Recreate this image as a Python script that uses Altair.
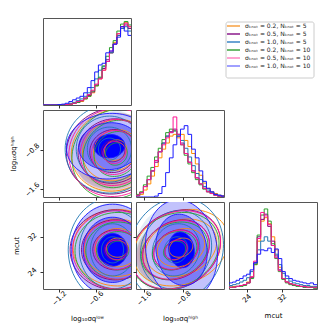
import altair as alt
import pandas as pd

# ---------------- series ----------------
series_ids = ["s1", "s2", "s3", "s4", "s5", "s6"]
series_labels = [
    "σₖₙₒₜ = 0.2, Nₖₙₒₜ = 5",
    "σₖₙₒₜ = 0.5, Nₖₙₒₜ = 5",
    "σₖₙₒₜ = 1.0, Nₖₙₒₜ = 5",
    "σₖₙₒₜ = 0.2, Nₖₙₒₜ = 10",
    "σₖₙₒₜ = 0.5, Nₖₙₒₜ = 10",
    "σₖₙₒₜ = 1.0, Nₖₙₒₜ = 10",
]
line_colors = ["#ff8c00", "#800080", "#1f77b4", "#2ca02c", "#ff1493", "#1a1aff"]
legend_colors = ["#f7a040", "#8b1a8b", "#3a84c4", "#3ca33c", "#ff85c2", "#8080ff"]

# ---------------- 1D histograms (fraction of panel height) ----------------
low_edges = [-1.46, -1.40, -1.34, -1.28, -1.22, -1.16, -1.10, -1.04, -0.98, -0.92, -0.86, -0.80,
             -0.74, -0.68, -0.62, -0.56, -0.50, -0.44, -0.38, -0.32, -0.26, -0.20, -0.14, -0.08, -0.02]
low_s1 = [0, 0, 0, 0, 0, 0, 0.005, 0.01, 0.02, 0.03, 0.04, 0.07, 0.10, 0.14, 0.22, 0.30, 0.40, 0.50, 0.60, 0.72, 0.82, 0.90, 0.95, 0.90]
low_s2 = [0, 0, 0, 0, 0, 0, 0.005, 0.01, 0.02, 0.03, 0.05, 0.08, 0.11, 0.15, 0.23, 0.31, 0.42, 0.52, 0.60, 0.70, 0.80, 0.88, 0.92, 0.88]
low_s3 = [0, 0, 0, 0, 0, 0.005, 0.01, 0.02, 0.03, 0.05, 0.07, 0.10, 0.14, 0.20, 0.30, 0.40, 0.44, 0.50, 0.60, 0.70, 0.80, 0.88, 0.90, 0.85]
low_s4 = [0, 0, 0, 0, 0, 0, 0, 0.01, 0.02, 0.03, 0.05, 0.07, 0.10, 0.16, 0.22, 0.32, 0.45, 0.56, 0.66, 0.74, 0.85, 0.93, 0.96, 0.92]
low_s5 = [0, 0, 0, 0, 0, 0, 0.005, 0.01, 0.02, 0.04, 0.05, 0.08, 0.12, 0.17, 0.24, 0.30, 0.40, 0.50, 0.62, 0.70, 0.82, 0.90, 0.94, 0.90]
low_s6 = [0, 0, 0, 0, 0.005, 0.01, 0.02, 0.04, 0.06, 0.08, 0.10, 0.14, 0.20, 0.28, 0.38, 0.46, 0.48, 0.60, 0.62, 0.70, 0.78, 0.90, 0.85, 0.80]

high_edges = [-1.76, -1.685, -1.61, -1.535, -1.46, -1.385, -1.31, -1.235, -1.16, -1.085, -1.01, -0.935,
              -0.86, -0.785, -0.71, -0.635, -0.56, -0.485, -0.41, -0.335, -0.26, -0.185, -0.11, -0.035, 0.04]
high_s1 = [0.01, 0.03, 0.08, 0.15, 0.24, 0.35, 0.45, 0.55, 0.62, 0.70, 0.72, 0.68, 0.72, 0.65, 0.58, 0.50, 0.38, 0.25, 0.16, 0.10, 0.06, 0.04, 0.02, 0.01]
high_s2 = [0.02, 0.05, 0.12, 0.20, 0.30, 0.40, 0.52, 0.62, 0.70, 0.75, 0.78, 0.72, 0.62, 0.50, 0.40, 0.30, 0.22, 0.15, 0.10, 0.06, 0.04, 0.02, 0.01, 0.01]
high_s3 = [0.02, 0.05, 0.12, 0.20, 0.30, 0.42, 0.52, 0.62, 0.70, 0.74, 0.76, 0.72, 0.65, 0.56, 0.46, 0.36, 0.27, 0.20, 0.12, 0.08, 0.05, 0.03, 0.02, 0.01]
high_s4 = [0.03, 0.06, 0.14, 0.24, 0.34, 0.46, 0.56, 0.66, 0.74, 0.78, 0.76, 0.70, 0.60, 0.48, 0.38, 0.28, 0.20, 0.14, 0.09, 0.06, 0.04, 0.02, 0.01, 0.01]
high_s5 = [0.02, 0.05, 0.12, 0.20, 0.30, 0.42, 0.52, 0.60, 0.68, 0.74, 0.92, 0.72, 0.60, 0.50, 0.40, 0.30, 0.22, 0.15, 0.10, 0.06, 0.04, 0.02, 0.01, 0.01]
high_s6 = [0, 0, 0, 0, 0, 0.01, 0.04, 0.12, 0.28, 0.45, 0.60, 0.70, 0.78, 0.82, 0.72, 0.55, 0.45, 0.30, 0.18, 0.10, 0.06, 0.03, 0.02, 0.01]

mcut_edges = [20.0, 20.8, 21.6, 22.4, 23.2, 24.0, 24.8, 25.6, 26.4, 27.2, 28.0, 28.8, 29.6,
              30.4, 31.2, 32.0, 32.8, 33.6, 34.4, 35.2, 36.0, 36.8, 37.6, 38.4, 39.2, 40.0]
mcut_s1 = [0.02, 0.03, 0.03, 0.04, 0.05, 0.08, 0.14, 0.28, 0.55, 0.78, 0.82, 0.75, 0.60, 0.45, 0.25, 0.12, 0.08, 0.06, 0.05, 0.04, 0.03, 0.03, 0.02, 0.02, 0.02]
mcut_s2 = [0.02, 0.02, 0.03, 0.04, 0.05, 0.07, 0.13, 0.30, 0.60, 0.80, 0.86, 0.72, 0.55, 0.38, 0.22, 0.12, 0.08, 0.06, 0.04, 0.04, 0.03, 0.02, 0.02, 0.02, 0.01]
mcut_s3 = [0.04, 0.05, 0.06, 0.08, 0.10, 0.13, 0.20, 0.30, 0.45, 0.55, 0.60, 0.55, 0.50, 0.40, 0.28, 0.18, 0.12, 0.09, 0.07, 0.06, 0.05, 0.04, 0.04, 0.03, 0.03]
mcut_s4 = [0.02, 0.02, 0.03, 0.03, 0.04, 0.07, 0.12, 0.28, 0.62, 0.85, 0.92, 0.78, 0.52, 0.35, 0.20, 0.11, 0.07, 0.05, 0.04, 0.03, 0.03, 0.02, 0.02, 0.02, 0.01]
mcut_s5 = [0.02, 0.02, 0.03, 0.04, 0.05, 0.07, 0.14, 0.32, 0.58, 0.88, 0.84, 0.74, 0.50, 0.36, 0.21, 0.12, 0.08, 0.06, 0.05, 0.04, 0.03, 0.03, 0.02, 0.02, 0.02]
mcut_s6 = [0.07, 0.08, 0.10, 0.12, 0.15, 0.17, 0.22, 0.30, 0.40, 0.45, 0.44, 0.47, 0.42, 0.46, 0.35, 0.20, 0.15, 0.12, 0.10, 0.09, 0.08, 0.07, 0.06, 0.07, 0.05]

# ---------------- 2D contour summaries (centre, spread, correlation) ----------------
# panel A: x = log sigma low, y = log sigma high
A_cx = [-0.28, -0.32, -0.38, -0.27, -0.30, -0.38]
A_cy = [-0.80, -0.82, -0.78, -0.88, -0.85, -0.72]
A_sx = [0.36, 0.38, 0.36, 0.36, 0.37, 0.50]
A_sy = [0.42, 0.44, 0.45, 0.46, 0.45, 0.48]
A_rho = [0.10, 0.05, 0.0, 0.10, 0.05, 0.05]
# panel B: x = log sigma low, y = mcut
B_cx = [-0.25, -0.28, -0.33, -0.24, -0.26, -0.33]
B_cy = [29.5, 29.0, 29.0, 28.8, 29.0, 29.0]
B_sx = [0.36, 0.37, 0.36, 0.35, 0.36, 0.48]
B_sy = [4.4, 4.6, 6.0, 4.4, 4.5, 7.5]
B_rho = [0.0, 0.0, 0.0, 0.0, 0.0, 0.0]
# panel C: x = log sigma high, y = mcut
C_cx = [-0.85, -0.95, -0.95, -0.98, -0.95, -0.84]
C_cy = [29.5, 29.0, 29.0, 28.8, 29.0, 29.0]
C_sx = [0.48, 0.45, 0.48, 0.45, 0.45, 0.52]
C_sy = [4.4, 4.6, 6.0, 4.4, 4.5, 8.2]
C_rho = [0.2, 0.2, 0.1, 0.2, 0.2, -0.1]

blue_shades = ["#c2c2fc", "#7c7cf8", "#0000ff"]

low_ticks = [-1.2, -0.6]
high_ticks = [-1.6, -0.8]
mcut_ticks = [24, 32]
low_dom = [-1.46, -0.03]
high_dom = [-1.76, 0.02]
mcut_dom = [20.0, 40.0]

t_low = "log₁₀σqˡᵒʷ"
t_high = "log₁₀σqʰⁱᵍʰ"
t_mcut = "mcut"

W, H = 88, 87
FONT = "DejaVu Sans"
TXT = "#000000"


def hist_df(edges, hists):
    rows = []
    for sid, col, vals in zip(series_ids, line_colors, hists):
        for i, e in enumerate(edges):
            rows.append({"s": sid, "col": col, "x": e, "y": vals[min(i, len(vals) - 1)]})
    return pd.DataFrame(rows)


def ell_df(cx, cy, sx, sy, rho):
    return pd.DataFrame({"s": series_ids, "col": line_colors, "cx": cx, "cy": cy,
                         "sx": sx, "sy": sy, "rho": rho})


def xaxis(vals, fmt, labels, title):
    kw = dict(values=vals, format=fmt, labels=labels, ticks=True, tickSize=3, domain=False, grid=False)
    if labels:
        kw.update(labelAngle=-45, labelAlign="center", labelBaseline="middle", labelPadding=6,
                  labelColor=TXT)
    if title:
        kw.update(title=title, titlePadding=8, titleColor=TXT)
    else:
        kw.update(title=None)
    return alt.Axis(**kw)


def yaxis(vals, fmt, labels, title):
    kw = dict(values=vals, format=fmt, labels=labels, ticks=True, tickSize=3, domain=False, grid=False)
    if labels:
        kw.update(labelAngle=-45, labelAlign="center", labelBaseline="middle", labelPadding=8,
                  labelColor=TXT)
    if title:
        kw.update(title=title, titlePadding=7, titleColor=TXT)
    else:
        kw.update(title=None)
    return alt.Axis(**kw)


def hist_panel(df, dom, xa):
    return alt.Chart(df).mark_line(interpolate="step-after", strokeWidth=1, clip=True).encode(
        x=alt.X("x:Q", scale=alt.Scale(domain=dom, nice=False, zero=False), axis=xa),
        y=alt.Y("y:Q", scale=alt.Scale(domain=[0, 1.0], nice=False), axis=None),
        color=alt.Color("col:N", scale=None),
        detail="s:N",
    ).properties(width=W, height=H)


def area_layer(df, xs, ys, xa, ya, sel, kval, fill, opacity):
    enc = dict(
        x=alt.X("ex:Q", scale=xs, axis=xa),
        y=alt.Y("ylo:Q", scale=ys, axis=ya, stack=None),
        y2="yhi:Q",
        detail="s:N",
    )
    if fill:
        mk = dict(clip=True, opacity=opacity, fill=fill)
    else:
        mk = dict(clip=True, opacity=opacity)
        enc["fill"] = alt.Fill("col:N", scale=None)
    return alt.Chart(df).transform_filter(sel).transform_calculate(
        k=str(kval)
    ).transform_calculate(
        i="sequence(0, 41)"
    ).transform_flatten(["i"]).transform_calculate(
        t="datum.i * PI / 40"
    ).transform_calculate(
        ex="datum.cx + datum.k * datum.sx * cos(datum.t)",
        ylo="datum.cy + datum.k * datum.sy * (datum.rho * cos(datum.t) - sqrt(1 - datum.rho * datum.rho) * sin(datum.t))",
        yhi="datum.cy + datum.k * datum.sy * (datum.rho * cos(datum.t) + sqrt(1 - datum.rho * datum.rho) * sin(datum.t))",
    ).mark_area(**mk).encode(**enc)


def line_layer(df, xs, ys, xa, ya):
    return alt.Chart(df).transform_calculate(
        k="[0.5, 1, 1.5, 2]"
    ).transform_flatten(["k"]).transform_filter(
        "datum.s != 's6' || datum.k <= 1.5"
    ).transform_calculate(
        k2="datum.s == 's6' && datum.k > 1.2 ? 1.4 : datum.k"
    ).transform_calculate(
        i="sequence(0, 81)"
    ).transform_flatten(["i"]).transform_calculate(
        t="datum.i * 2 * PI / 80", gid="datum.s + '_' + datum.k"
    ).transform_calculate(
        ex="datum.cx + datum.k2 * datum.sx * cos(datum.t)",
        ey="datum.cy + datum.k2 * datum.sy * (datum.rho * cos(datum.t) + sqrt(1 - datum.rho * datum.rho) * sin(datum.t))",
    ).mark_line(clip=True, strokeWidth=0.9).encode(
        x=alt.X("ex:Q", scale=xs, axis=xa),
        y=alt.Y("ey:Q", scale=ys, axis=ya),
        color=alt.Color("col:N", scale=None),
        detail="gid:N",
        order="i:Q",
    )


def contour_panel(df, xdom, ydom, xa, ya):
    xs = alt.Scale(domain=xdom, nice=False, zero=False)
    ys = alt.Scale(domain=ydom, nice=False, zero=False)
    others = "datum.s != 's6'"
    blue = "datum.s == 's6'"
    layers = [
        area_layer(df, xs, ys, xa, ya, others, 1.8, None, 0.12),
        area_layer(df, xs, ys, xa, ya, blue, 1.4, blue_shades[0], 1.0),
        area_layer(df, xs, ys, xa, ya, blue, 1.0, blue_shades[1], 1.0),
        area_layer(df, xs, ys, xa, ya, blue, 0.5, blue_shades[2], 1.0),
        line_layer(df, xs, ys, xa, ya),
    ]
    return alt.layer(*layers).properties(width=W, height=H)


def empty_panel():
    return alt.Chart(pd.DataFrame({"a": [0]})).mark_point(opacity=0).encode(
        x=alt.X("a:Q", axis=None), y=alt.Y("a:Q", axis=None)
    ).properties(width=W, height=H, view=alt.ViewBackground(stroke="transparent"))


def legend_panel():
    ldf = pd.DataFrame({"idx": list(range(6)), "label": series_labels, "col": legend_colors})
    ysc = alt.Scale(domain=[0, 5], range=[8, 48])
    box = alt.Chart(pd.DataFrame({"a": [0]})).mark_rect(
        fill="white", stroke="#cccccc", strokeWidth=1, cornerRadius=2
    ).encode(x=alt.value(-3), x2=alt.value(85), y=alt.value(4), y2=alt.value(60))
    rules = alt.Chart(ldf).mark_rule(strokeWidth=1.5).encode(
        x=alt.value(-2), x2=alt.value(11),
        y=alt.Y("idx:Q", scale=ysc, axis=None),
        color=alt.Color("col:N", scale=None),
    )
    texts = alt.Chart(ldf).mark_text(align="left", baseline="middle", fontSize=6, font=FONT, color="#222222").encode(
        x=alt.value(16), y=alt.Y("idx:Q", scale=ysc, axis=None), text="label:N"
    )
    return alt.layer(box, rules, texts).properties(
        width=W, height=H, view=alt.ViewBackground(stroke="transparent")
    )


h_low = hist_df(low_edges, [low_s1, low_s2, low_s3, low_s4, low_s5, low_s6])
h_high = hist_df(high_edges, [high_s1, high_s2, high_s3, high_s4, high_s5, high_s6])
h_mcut = hist_df(mcut_edges, [mcut_s1, mcut_s2, mcut_s3, mcut_s4, mcut_s5, mcut_s6])

eA = ell_df(A_cx, A_cy, A_sx, A_sy, A_rho)
eB = ell_df(B_cx, B_cy, B_sx, B_sy, B_rho)
eC = ell_df(C_cx, C_cy, C_sx, C_sy, C_rho)

c00 = hist_panel(h_low, low_dom, xaxis(low_ticks, ".1f", False, None))
c01 = empty_panel()
c02 = legend_panel()
c10 = contour_panel(eA, low_dom, high_dom, xaxis(low_ticks, ".1f", False, None),
                    yaxis(high_ticks, ".1f", True, t_high))
c11 = hist_panel(h_high, high_dom, xaxis(high_ticks, ".1f", False, None))
c12 = empty_panel()
c20 = contour_panel(eB, low_dom, mcut_dom, xaxis(low_ticks, ".1f", True, t_low),
                    yaxis(mcut_ticks, "d", True, t_mcut))
c21 = contour_panel(eC, high_dom, mcut_dom, xaxis(high_ticks, ".1f", True, t_high),
                    yaxis(mcut_ticks, "d", False, None))
c22 = hist_panel(h_mcut, mcut_dom, xaxis(mcut_ticks, "d", True, t_mcut))

chart = alt.concat(c00, c01, c02, c10, c11, c12, c20, c21, c22, columns=3, spacing=5, bounds="flush").properties(
    padding={"left": 0, "top": 9, "right": 2, "bottom": 2}
).configure_view(
    stroke="#555555", strokeWidth=1
).configure_axis(
    labelFont=FONT, titleFont=FONT, labelFontSize=7, titleFontSize=7, titleFontWeight="normal",
    labelColor=TXT, titleColor=TXT, tickColor="#333333"
)

chart.save("out.html", embed_options={"renderer": "svg", "actions": False})
